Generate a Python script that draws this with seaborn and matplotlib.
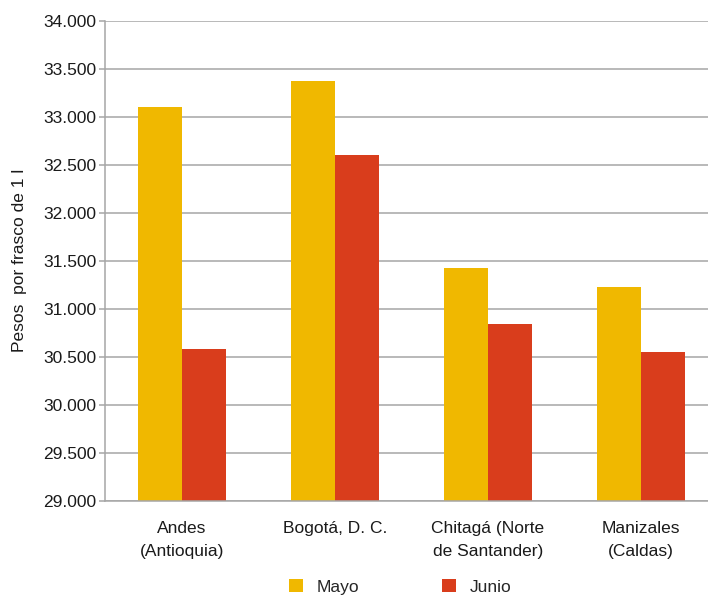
import pandas as pd
import numpy as np
import matplotlib
matplotlib.use("Agg")
import matplotlib.pyplot as plt
import seaborn as sns
from matplotlib.ticker import FuncFormatter

# data
ciudades = ["Andes\n(Antioquia)", "Bogotá, D. C.", "Chitagá (Norte\nde Santander)", "Manizales\n(Caldas)"]
mayo = [33100, 33370, 31420, 31230]
junio = [30580, 32600, 30845, 30545]
meses = ["Mayo", "Junio"]
colores = ["#F0B800", "#D93D1C"]

df = pd.DataFrame({
    "ciudad": ciudades * 2,
    "mes": [meses[0]] * 4 + [meses[1]] * 4,
    "precio": mayo + junio,
})

sns.set_theme(style="white")
plt.rcParams['font.family'] = ['Liberation Sans', 'DejaVu Sans']

fig = plt.figure(figsize=(7.08, 5.96), dpi=100)
ax = fig.add_axes([0.148, 0.160, 0.852, 0.805])

sns.barplot(data=df, x="ciudad", y="precio", hue="mes", palette=colores,
            saturation=1, width=0.58, gap=0, ax=ax, edgecolor="none",
            linewidth=0, errorbar=None)

ax.set_ylim(29000, 34000)
ax.set_xlim(-0.505, 3.438)
ax.set_yticks(np.arange(29000, 34001, 500))
ax.yaxis.set_major_formatter(FuncFormatter(lambda v, p: f"{v:,.0f}".replace(",", ".")))
ax.grid(axis="y", color="#a6a6a6", linewidth=1.1)
ax.set_axisbelow(True)

for s in ["top", "right"]:
    ax.spines[s].set_visible(False)
for s in ["left", "bottom"]:
    ax.spines[s].set_color("#a6a6a6")
    ax.spines[s].set_linewidth(1.1)

ax.tick_params(axis="y", left=True, length=4, width=1.1, color="#a6a6a6",
               pad=2, labelsize=12.5, labelcolor="#1a1a1a")
ax.tick_params(axis="x", bottom=False, pad=9, labelsize=12.5, labelcolor="#1a1a1a")
ax.set_xticks(range(len(ciudades)), ciudades, linespacing=1.65)

ax.set_xlabel("")
ax.set_ylabel("Pesos  por frasco de 1 l", fontsize=12.5, color="#1a1a1a", labelpad=12)

ax.legend(loc="center", bbox_to_anchor=(0.49, -0.18), ncol=2, frameon=False,
          fontsize=12.5, handlelength=0.8, handleheight=0.8, columnspacing=4.8,
          handletextpad=0.8)

fig.savefig("out.png", dpi=100)
